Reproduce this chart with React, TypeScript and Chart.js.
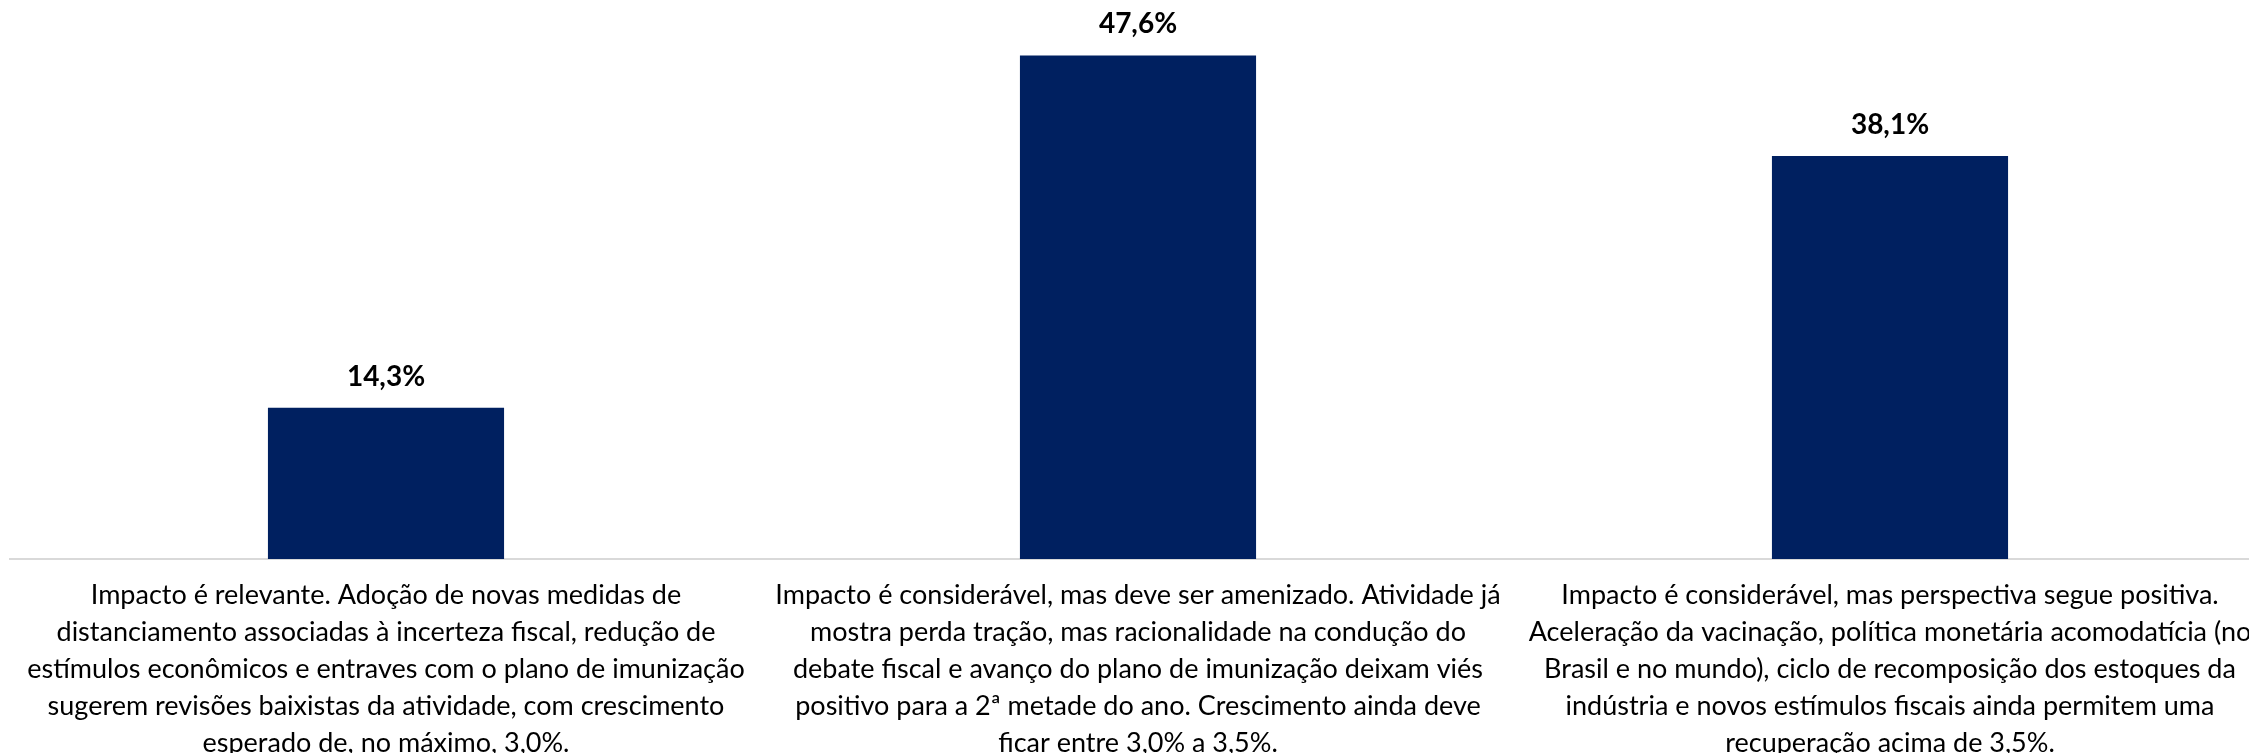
import React, { useEffect, useRef } from 'react';
import { Chart, registerables } from 'chart.js';

Chart.register(...registerables);

const categories: string[][] = [
  [
    'Impacto é relevante. Adoção de novas medidas de',
    'distanciamento associadas à incerteza fiscal, redução de',
    'estímulos econômicos e entraves com o plano de imunização',
    'sugerem revisões baixistas da atividade, com crescimento',
    'esperado de, no máximo, 3,0%.',
  ],
  [
    'Impacto é considerável, mas deve ser amenizado. Atividade já',
    'mostra perda tração, mas racionalidade na condução do',
    'debate fiscal e avanço do plano de imunização deixam viés',
    'positivo para a 2ª metade do ano. Crescimento ainda deve',
    'ficar entre 3,0% a 3,5%.',
  ],
  [
    'Impacto é considerável, mas perspectiva segue positiva.',
    'Aceleração da vacinação, política monetária acomodatícia (no',
    'Brasil e no mundo), ciclo de recomposição dos estoques da',
    'indústria e novos estímulos fiscais ainda permitem uma',
    'recuperação acima de 3,5%.',
  ],
];

const values: number[] = [14.3, 47.6, 38.1];

const yMin = 0;
const yMax = 50;

const BAR_COLOR = '#002060';
const TEXT_COLOR = '#000000';
const AXIS_COLOR = '#d9d9d9';

const formatPct = (v: number) => v.toFixed(1).replace('.', ',') + '%';

const valueLabelPlugin = {
  id: 'valueLabels',
  afterDatasetsDraw(chart: any) {
    const ctx = chart.ctx;
    const meta = chart.getDatasetMeta(0);
    ctx.save();
    ctx.font = 'bold 28px Lato';
    ctx.fillStyle = TEXT_COLOR;
    ctx.textAlign = 'center';
    ctx.textBaseline = 'middle';
    meta.data.forEach((bar: any, i: number) => {
      ctx.fillText(formatPct(values[i]), bar.x, bar.y - 31);
    });
    ctx.restore();
  },
};

export default function App() {
  const canvasRef = useRef<HTMLCanvasElement | null>(null);

  useEffect(() => {
    const canvas = canvasRef.current;
    if (!canvas) return;
    const chart = new Chart(canvas, {
      type: 'bar',
      data: {
        labels: categories,
        datasets: [
          {
            data: values,
            backgroundColor: BAR_COLOR,
            borderWidth: 0,
            categoryPercentage: 1,
            barPercentage: 0.314,
          },
        ],
      },
      options: {
        responsive: false,
        animation: false,
        devicePixelRatio: 1,
        layout: { padding: { left: 10, right: 4, top: 30, bottom: 0 } },
        plugins: {
          legend: { display: false },
          tooltip: { enabled: false },
        },
        scales: {
          x: {
            grid: { display: false, drawTicks: false },
            border: { display: true, color: AXIS_COLOR, width: 2 },
            ticks: {
              autoSkip: false,
              maxRotation: 0,
              minRotation: 0,
              padding: 18,
              color: TEXT_COLOR,
              font: { family: 'Lato', size: 27, lineHeight: 37 / 27 },
            },
          },
          y: {
            display: false,
            min: yMin,
            max: yMax,
          },
        },
      },
      plugins: [valueLabelPlugin],
    });
    return () => chart.destroy();
  }, []);

  return (
    <div
      style={{
        position: 'fixed',
        left: 0,
        top: 0,
        width: 2249,
        height: 753,
        overflow: 'hidden',
        background: '#ffffff',
      }}
    >
      <canvas ref={canvasRef} width={2270} height={780} style={{ display: 'block' }} />
    </div>
  );
}
